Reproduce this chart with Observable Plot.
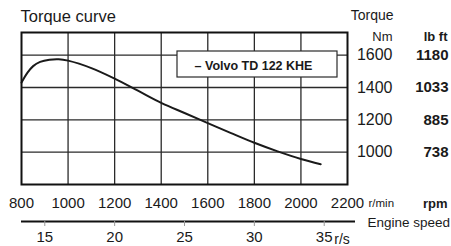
<!DOCTYPE html>
<html>
<head>
<meta charset="utf-8">
<script src="https://cdn.jsdelivr.net/npm/d3@7"></script>
<script src="https://cdn.jsdelivr.net/npm/@observablehq/plot@0.6"></script>
<style>
  html, body { margin: 0; padding: 0; background: #fff; }
  #chart svg { display: block; }
</style>
</head>
<body>
<div id="chart"></div>
<script>
// Torque curve data
const rpm      = [800, 825, 850, 880, 920, 960, 1000, 1100, 1200, 1300, 1400, 1500, 1600, 1700, 1800, 1900, 2000, 2085];
const torqueNm = [1430, 1490, 1532, 1558, 1572, 1575, 1566, 1520, 1455, 1380, 1305, 1242, 1180, 1118, 1058, 1005, 958, 925];

// Axis ticks and labels
const rpmTicks   = [800, 1000, 1200, 1400, 1600, 1800, 2000, 2200];
const rpmGrid    = [1000, 1200, 1400, 1600, 1800, 2000];
const nmTicks    = [1000, 1200, 1400, 1600];
const lbftLabels = ["738", "885", "1033", "1180"];
const rsTicks    = [15, 20, 25, 30, 35];
const seriesName = "– Volvo TD 122 KHE";

const curve = rpm.map((r, i) => ({rpm: r, nm: torqueNm[i]}));
const lbft = nmTicks.map((n, i) => ({nm: n, label: lbftLabels[i]}));
const rsRpm = rsTicks.map(r => r * 60);

const font = "'Liberation Sans', Arial, Helvetica, sans-serif";
const ink = "#1a1a1a";
const T = (txt, opts) => Plot.text([txt], {text: d => d, lineAnchor: "middle", fill: ink, ...opts});

const chart = Plot.plot({
  width: 451,
  height: 246,
  marginLeft: 21,
  marginRight: 104,
  marginTop: 32,
  marginBottom: 62,
  x: {domain: [800, 2200], axis: null},
  y: {domain: [800, 1740], axis: null},
  style: {fontFamily: font, color: ink, background: "#fff", overflow: "visible"},
  marks: [
    // grid
    Plot.ruleX(rpmGrid, {stroke: "#2a2a2a", strokeWidth: 1.3}),
    Plot.ruleY(nmTicks, {stroke: "#2a2a2a", strokeWidth: 1.3}),
    // legend box
    Plot.rect([0], {insetLeft: 156, insetRight: 10, insetTop: 19, insetBottom: 107, fill: "#fff", stroke: "#2a2a2a", strokeWidth: 1.2}),
    T(seriesName, {frameAnchor: "top-left", dx: 232, dy: 33, textAnchor: "middle", fontSize: 12.5, fontWeight: "bold"}),
    // torque curve
    Plot.line(curve, {x: "rpm", y: "nm", curve: "catmull-rom", stroke: ink, strokeWidth: 2}),
    // frame
    Plot.frame({stroke: "#111", strokeWidth: 2}),
    // title
    T("Torque curve", {frameAnchor: "top-left", dx: -1, dy: -15.5, textAnchor: "start", fontSize: 16.5}),
    // right headers
    T("Torque", {frameAnchor: "top-right", dx: 46, dy: -16.5, textAnchor: "end", fontSize: 14}),
    T("Nm", {frameAnchor: "top-right", dx: 45, dy: 4, textAnchor: "end", fontSize: 13}),
    T("lb ft", {frameAnchor: "top-right", dx: 100, dy: 4, textAnchor: "end", fontSize: 13, fontWeight: "bold"}),
    // right tick labels
    Plot.text(nmTicks, {y: d => d, frameAnchor: "right", dx: 45, textAnchor: "end", lineAnchor: "middle", text: d => String(d), fontSize: 16, fill: ink}),
    Plot.text(lbft, {y: "nm", frameAnchor: "right", dx: 101, textAnchor: "end", lineAnchor: "middle", text: "label", fontSize: 15, fontWeight: "bold", fill: ink}),
    // bottom rpm labels
    Plot.text(rpmTicks, {x: d => d, frameAnchor: "bottom", dy: 19, lineAnchor: "middle", text: d => String(d), fontSize: 15, fill: ink}),
    T("r/min", {frameAnchor: "bottom-right", dx: 21, dy: 19, textAnchor: "start", fontSize: 11.5}),
    T("rpm", {frameAnchor: "bottom-right", dx: 100, dy: 19, textAnchor: "end", fontSize: 13, fontWeight: "bold"}),
    // engine speed r/s scale
    Plot.ruleY([800], {x1: 800, x2: 2200, dy: 37, insetRight: -8, stroke: "#111", strokeWidth: 2}),
    Plot.axisX(rsRpm, {anchor: "bottom", dy: 37, tickSize: 5, tickPadding: 5, tickFormat: d => String(d / 60), fontSize: 15, stroke: "#999", fill: ink, label: null}),
    Plot.text(["r/s"], {x: [rsRpm[rsRpm.length - 1]], frameAnchor: "bottom", dx: 10, dy: 55, textAnchor: "start", lineAnchor: "middle", text: d => d, fontSize: 14, fill: ink}),
    T("Engine speed", {frameAnchor: "bottom-right", dx: 20, dy: 38, textAnchor: "start", fontSize: 13.5})
  ]
});

document.getElementById("chart").appendChild(chart);
</script>
</body>
</html>
